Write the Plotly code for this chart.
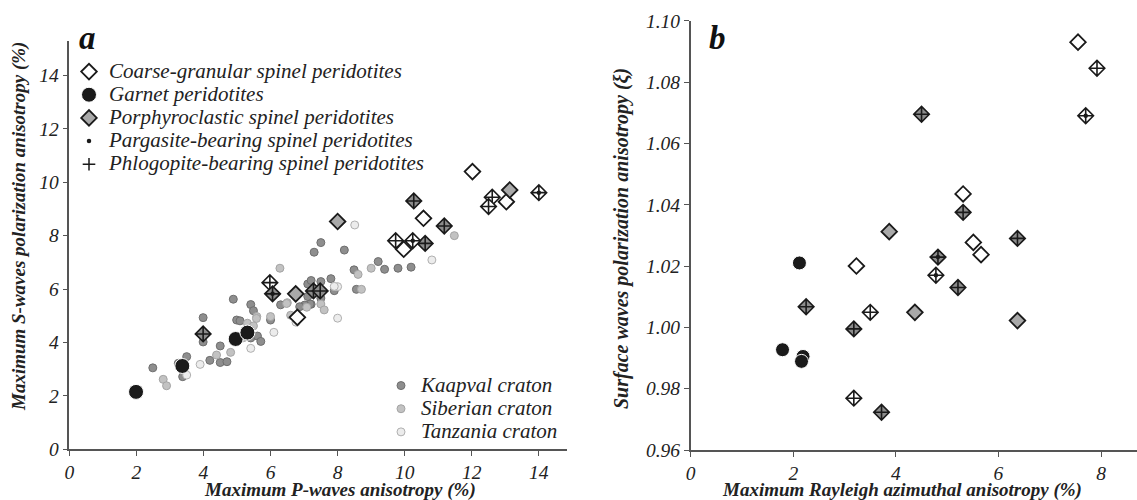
import plotly.graph_objects as go

# ---- panel a: S-wave vs P-wave anisotropy ----
kaap_x = [2.49, 3.50, 3.38, 3.25, 3.99, 3.99, 4.19, 4.50, 4.50, 4.70, 4.89, 4.99, 5.09, 5.41, 5.49, 5.41,
          5.61, 5.71, 6.00, 6.30, 7.30, 7.50, 7.11, 7.21, 7.11, 7.80, 7.90, 7.50, 7.50, 7.21, 8.20, 8.49,
          9.21, 9.40, 9.80, 10.19, 8.56, 7.18, 7.02, 6.87]
kaap_y = [3.05, 3.47, 2.72, 3.22, 4.93, 4.02, 3.33, 3.87, 3.25, 3.28, 5.62, 4.84, 4.81, 5.42, 5.19, 4.17,
          4.24, 4.04, 4.84, 5.41, 7.38, 7.74, 6.19, 6.32, 5.72, 6.39, 5.94, 6.28, 5.66, 5.43, 7.46, 6.72,
          7.03, 6.74, 6.78, 6.82, 5.99, 5.44, 5.40, 5.34]
sib_x = [6.28, 2.80, 2.90, 4.39, 4.81, 5.19, 5.31, 5.49, 5.59, 6.00, 6.50, 6.60, 7.08, 7.50, 7.60, 8.61,
         9.00, 8.71, 11.48, 5.58, 6.48]
sib_y = [6.78, 2.62, 2.38, 3.53, 3.63, 4.18, 4.72, 4.62, 4.97, 4.97, 5.49, 5.02, 5.32, 5.44, 5.22, 6.55,
         6.78, 5.99, 8.00, 4.90, 5.46]
tanz_x = [3.90, 3.50, 5.41, 6.10, 6.76, 8.00, 8.00, 8.51, 10.81, 7.90]
tanz_y = [3.18, 2.78, 3.78, 4.38, 4.76, 4.91, 6.09, 8.40, 7.09, 6.10]

a_coarse_x = [6.80, 12.02, 13.03, 10.56, 9.97]
a_coarse_y = [4.94, 10.40, 9.27, 8.65, 7.49]
a_porph_x = [6.75, 8.00, 13.13]
a_porph_y = [5.82, 8.53, 9.71]
a_garnet_x = [1.99, 3.37, 4.96, 5.31]
a_garnet_y = [2.15, 3.12, 4.13, 4.37]
a_coarse_phl_x = [5.98, 9.73, 12.61, 12.50]
a_coarse_phl_y = [6.24, 7.81, 9.44, 9.09]
a_porph_phl_x = [3.99, 7.28, 7.48, 10.27, 11.18, 10.61]
a_porph_phl_y = [4.32, 5.93, 5.93, 9.30, 8.36, 7.71]
a_coarse_phl_par_x = [10.24, 14.00]
a_coarse_phl_par_y = [7.81, 9.61]
a_porph_phl_par_x = [6.06]
a_porph_phl_par_y = [5.82]

# ---- panel b: surface waves ----
b_coarse_x = [3.23, 5.31, 5.51, 5.66, 7.55]
b_coarse_y = [1.020, 1.0435, 1.0277, 1.0237, 1.093]
b_porph_x = [3.87, 4.37, 6.37]
b_porph_y = [1.0312, 1.0049, 1.0022]
b_garnet_x = [2.12, 1.79, 2.19, 2.16]
b_garnet_y = [1.021, 0.9927, 0.9905, 0.9889]
b_coarse_phl_x = [3.50, 3.18, 7.92]
b_coarse_phl_y = [1.0049, 0.9769, 1.0845]
b_porph_phl_x = [4.50, 5.31, 5.21, 2.25, 3.18, 3.72, 6.37]
b_porph_phl_y = [1.0695, 1.0375, 1.013, 1.0067, 0.9995, 0.9723, 1.029]
b_coarse_phl_par_x = [4.78, 7.70]
b_coarse_phl_par_y = [1.017, 1.069]
b_porph_phl_par_x = [4.82]
b_porph_phl_par_y = [1.0229]

# tick labels
a_ticks = [0, 2, 4, 6, 8, 10, 12, 14]
b_xticks = [0, 2, 4, 6, 8]
b_yticks = [0.96, 0.98, 1.00, 1.02, 1.04, 1.06, 1.08, 1.10]

SERIF = "Liberation Serif, 'Times New Roman', Times, 'DejaVu Serif', serif"
INK = "#1a1a1a"
GREY = "#a9a9a9"
GREY_X = "#8c8c8c"


def big(s):
    # larger text inside legend rows that stay tightly packed
    return '<span style="font-size:21px">' + s + "</span>"


def ital(vals, fmt="{:g}"):
    return ["<i>" + fmt.format(v) + "</i>" for v in vals]


fig = go.Figure()


def pts(x, y, xa, ya, marker, **kw):
    fig.add_trace(go.Scatter(x=x, y=y, xaxis=xa, yaxis=ya, mode="markers", marker=marker,
                             hoverinfo="skip", **kw))


# craton background points (panel a)
pts(kaap_x, kaap_y, "x", "y", dict(size=8, color="#8e8e8e", line=dict(color="#6e6e6e", width=1)),
    name=big("Kaapval craton"), legend="legend2")
pts(sib_x, sib_y, "x", "y", dict(size=8, color="#c2c2c2", line=dict(color="#a4a4a4", width=1)),
    name=big("Siberian craton"), legend="legend2")
pts(tanz_x, tanz_y, "x", "y", dict(size=8, color="#ececec", line=dict(color="#b0b0b0", width=1)),
    name=big("Tanzania craton"), legend="legend2")

dia = dict(symbol="diamond", size=12, line=dict(color=INK, width=1.8))
dia_x = dict(symbol="diamond-cross", size=12, line=dict(color=INK, width=1.6))
dot = dict(symbol="circle", size=4.5, color=INK, line=dict(width=0))

for xa, ya, d in [
    ("x", "y", dict(c=(a_coarse_x, a_coarse_y), p=(a_porph_x, a_porph_y), g=(a_garnet_x, a_garnet_y),
                    cp=(a_coarse_phl_x, a_coarse_phl_y), pp=(a_porph_phl_x, a_porph_phl_y),
                    cpp=(a_coarse_phl_par_x, a_coarse_phl_par_y), ppp=(a_porph_phl_par_x, a_porph_phl_par_y),
                    gs=15, leg=True)),
    ("x2", "y2", dict(c=(b_coarse_x, b_coarse_y), p=(b_porph_x, b_porph_y), g=(b_garnet_x, b_garnet_y),
                      cp=(b_coarse_phl_x, b_coarse_phl_y), pp=(b_porph_phl_x, b_porph_phl_y),
                      cpp=(b_coarse_phl_par_x, b_coarse_phl_par_y), ppp=(b_porph_phl_par_x, b_porph_phl_par_y),
                      gs=14, leg=False)),
]:
    leg = d["leg"]
    pts(*d["cp"], xa, ya, dict(dia_x, color="white"), showlegend=False)
    pts(*d["pp"], xa, ya, dict(dia_x, color=GREY_X), showlegend=False)
    pts(*d["cpp"], xa, ya, dict(dia_x, color="white"), showlegend=False)
    pts(*d["ppp"], xa, ya, dict(dia_x, color=GREY_X), showlegend=False)
    pts(*d["c"], xa, ya, dict(dia, color="white"), name=big("Coarse-granular spinel peridotites"),
        showlegend=leg, legendrank=1)
    pts(*d["p"], xa, ya, dict(dia, color=GREY), name=big("Porphyroclastic spinel peridotites"),
        showlegend=leg, legendrank=3)
    pts(*d["g"], xa, ya, dict(symbol="circle", size=d["gs"], color=INK, line=dict(color="white", width=1)),
        name=big("Garnet peridotites"), showlegend=leg, legendrank=2)
    # pargasite dots on top of crossed diamonds
    pts(d["cpp"][0] + d["ppp"][0], d["cpp"][1] + d["ppp"][1], xa, ya, dot,
        name=big("Pargasite-bearing spinel peridotites"), showlegend=leg, legendrank=4)

# legend-only symbol for phlogopite
fig.add_trace(go.Scatter(x=[None], y=[None], mode="markers", name=big("Phlogopite-bearing spinel peridotites"),
                         marker=dict(symbol="cross-thin", size=9, line=dict(color=INK, width=1.5)),
                         legendrank=5))

tick_font = dict(family=SERIF, size=19.5, style="italic", color="#222")
axis_common = dict(showline=True, linecolor="#555", linewidth=1.5, ticks="outside", ticklen=5,
                   tickcolor="#555", tickwidth=1.2, showgrid=False, zeroline=False, tickfont=tick_font,
                   automargin=False, tickmode="array")

W, H = 1137, 500
fig.update_layout(
    width=W, height=H, margin=dict(l=0, r=0, t=0, b=0, autoexpand=False),
    paper_bgcolor="white", plot_bgcolor="white",
    font=dict(family=SERIF, color="#222"),
    xaxis=dict(axis_common, domain=[69.3 / W, 566.7 / W], range=[0, 14.83],
               tickvals=a_ticks, ticktext=ital(a_ticks), anchor="y"),
    yaxis=dict(axis_common, domain=[(H - 449.3) / H, (H - 40.7) / H], range=[0, 15.3],
               tickvals=a_ticks, ticktext=ital(a_ticks), anchor="x"),
    xaxis2=dict(axis_common, domain=[690.7 / W, 1.0], range=[0, 8.7],
                tickvals=b_xticks, ticktext=ital(b_xticks), anchor="y2"),
    yaxis2=dict(axis_common, domain=[(H - 450) / H, (H - 20.7) / H], range=[0.96, 1.10],
                tickvals=b_yticks, ticktext=ital(b_yticks, "{:.2f}"), anchor="x2"),
    showlegend=True,
    legend=dict(x=69 / W, y=(H - 55) / H, xanchor="left", yanchor="top", bgcolor="rgba(0,0,0,0)",
                font=dict(family=SERIF, size=15.5, style="italic", color="#222"), traceorder="normal",
                itemsizing="trace"),
    legend2=dict(x=381 / W, y=(H - 369) / H, xanchor="left", yanchor="top", bgcolor="rgba(0,0,0,0)",
                 font=dict(family=SERIF, size=15.5, style="italic", color="#222"), itemsizing="trace"),
)

xt_font = dict(family=SERIF, size=19, style="italic", weight="bold", color="#222")
label_font = dict(family=SERIF, size=33, style="italic", weight="bold", color="#111")
common_ann = dict(xref="paper", yref="paper", showarrow=False)
fig.add_annotation(x=77 / W, y=(H - 38) / H, text="a", xanchor="left", yanchor="middle", font=label_font,
                   **common_ann)
fig.add_annotation(x=707 / W, y=(H - 38) / H, text="b", xanchor="left", yanchor="middle", font=label_font,
                   **common_ann)
fig.add_annotation(x=340 / W, y=(H - 490) / H, text="Maximum P-waves anisotropy (%)",
                   xanchor="center", yanchor="middle", font=xt_font, **common_ann)
fig.add_annotation(x=902 / W, y=(H - 490) / H, text="Maximum Rayleigh azimuthal anisotropy (%)",
                   xanchor="center", yanchor="middle", font=xt_font, **common_ann)
fig.add_annotation(x=19 / W, y=(H - 227) / H, textangle=-90, text="Maximum S-waves polarization anisotropy (%)",
                   xanchor="center", yanchor="middle", font=dict(xt_font, size=19), **common_ann)
fig.add_annotation(x=621 / W, y=(H - 239) / H, textangle=-90, text="Surface waves polarization anisotropy (ξ)",
                   xanchor="center", yanchor="middle", font=dict(xt_font, size=20), **common_ann)

fig.write_html("out.html", config={"displayModeBar": False},
               post_script="document.body.style.margin='0';")
